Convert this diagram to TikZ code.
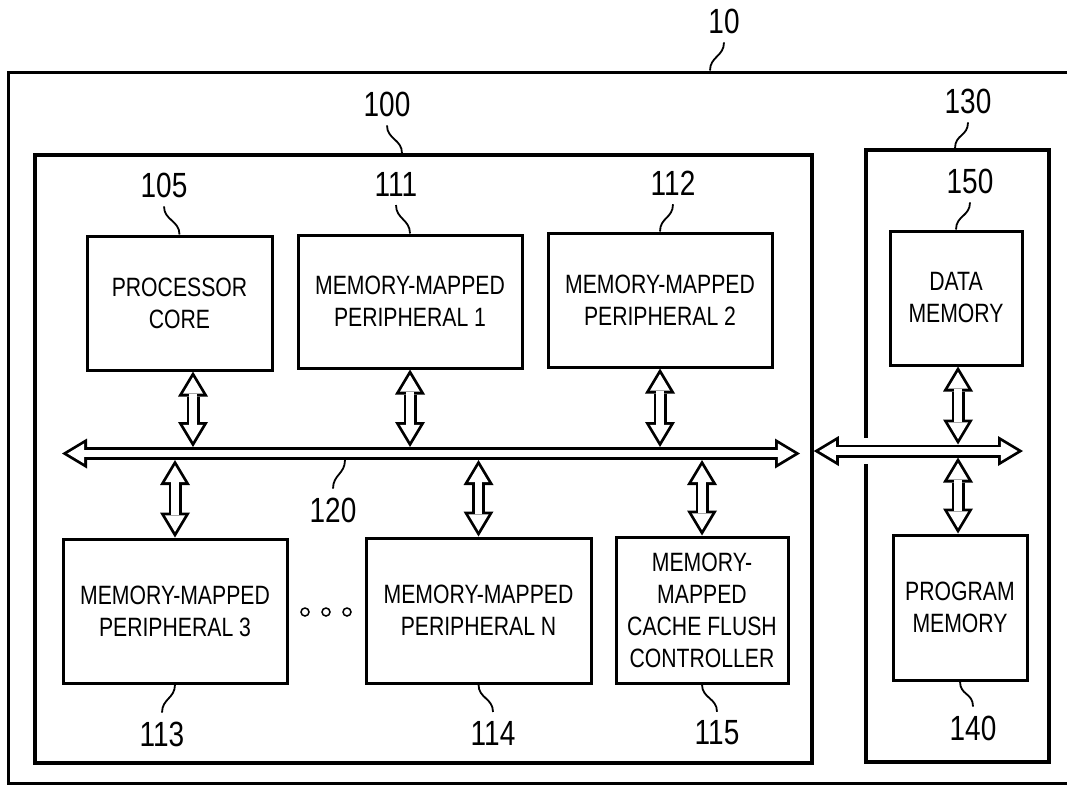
\documentclass[tikz,border=0pt]{standalone}
\usepackage{fontspec}
\setmainfont{Liberation Sans}[FakeStretch=0.8]
\usetikzlibrary{arrows.meta,positioning,calc}
\tikzset{
  unit box/.style={draw,line width=3pt,fill=white,align=center,inner sep=0pt,
    font=\fontsize{26.5}{32}\selectfont},
  frame box/.style={draw,line width=3.5pt,inner sep=0pt},
  ref label/.style={inner sep=0pt,outer sep=9pt,font=\fontsize{35}{40}\selectfont},
  ref leader/.style={line width=1.8pt},
  widetip/.tip={Triangle[length=25pt,width=30pt,line width=0pt]},
  innertip/.tip={Triangle[length=16.75pt,width=20.1pt,line width=0pt]},
  fat arrow/.style={line width=13pt,arrows={widetip-widetip},
    postaction={draw=white,line width=7.4pt,arrows={innertip-innertip},
      shorten <=5.45pt,shorten >=5.45pt}},
  bus gap/.style={preaction={draw=white,line width=26pt,arrows=-}}
}
\begin{document}
\begin{tikzpicture}[x=1pt,y=-1pt]
\useasboundingbox (0,0) rectangle (1067,793);
% system, chip and memory blocks
\node[frame box,line width=3pt,minimum width=1082pt,minimum height=711pt] (sys) at (549,427.5) {};
\node[frame box,minimum width=777pt,minimum height=608pt] (chip) at (423.5,459) {};
\node[frame box,minimum width=183pt,minimum height=612pt] (mem) at (957.5,456) {};
% units
\node[unit box,minimum width=185pt,minimum height=134pt] (core) at (179.5,303) {PROCESSOR\\CORE};
\node[unit box,minimum width=224pt,minimum height=133pt] (per1) at (410,301.5) {MEMORY-MAPPED\\PERIPHERAL 1};
\node[unit box,minimum width=224pt,minimum height=134pt] (per2) at (660,300) {MEMORY-MAPPED\\PERIPHERAL 2};
\node[unit box,minimum width=132pt,minimum height=134pt] (dmem) at (956,298) {DATA\\MEMORY};
\node[unit box,minimum width=224pt,minimum height=144pt] (per3) at (175,611) {MEMORY-MAPPED\\PERIPHERAL 3};
\node[unit box,minimum width=225pt,minimum height=145pt] (perN) at (478.5,610.5) {MEMORY-MAPPED\\PERIPHERAL N};
\node[unit box,minimum width=172pt,minimum height=146pt] (flush) at (702,610) {MEMORY-\\MAPPED\\CACHE FLUSH\\CONTROLLER};
\node[unit box,minimum width=134pt,minimum height=145pt] (pmem) at (960,607.5) {PROGRAM\\MEMORY};
\foreach \x in {305,326,347}
  \draw[line width=1.5pt] (\x,612) circle (4pt);
% bus 120 and the memory bus
\coordinate (busL) at (62,453.5);
\coordinate (busR) at (800,453.5);
\coordinate (bustop) at (0,447);
\coordinate (busbot) at (0,460);
\coordinate (rbus) at (1023,451);
\coordinate (rtop) at (0,444.5);
\coordinate (rbot) at (0,457.5);
\draw[fat arrow] (busL) -- (busR);
\draw[fat arrow,bus gap] (chip.east |- rbus) -- (rbus);
\draw[fat arrow] ($(core.south)+(13.5,0)$) -- ($(core.south |- bustop)+(13.5,0)$);
\draw[fat arrow] (per1.south) -- (per1.south |- bustop);
\draw[fat arrow] (per2.south) -- (per2.south |- bustop);
\draw[fat arrow] (per3.north |- busbot) -- (per3.north);
\draw[fat arrow] (perN.north |- busbot) -- (perN.north);
\draw[fat arrow] (flush.north |- busbot) -- (flush.north);
\draw[fat arrow] ($(dmem.south)+(2,0)$) -- ($(dmem.south |- rtop)+(2,0)$);
\draw[fat arrow] ($(pmem.north |- rbot)+(-2,0)$) -- ($(pmem.north)+(-2,0)$);
% reference numerals
\node[ref label] (l10) at (724,21) {10};
\node[ref label] (l100) at (387,104) {100};
\node[ref label] (l130) at (968,101) {130};
\node[ref label] (l105) at (164,185) {105};
\node[ref label] (l111) at (396,184) {111};
\node[ref label] (l112) at (673,183) {112};
\node[ref label] (l150) at (970,181) {150};
\node[ref label] (l120) at (333,510) {120};
\node[ref label] (l113) at (162,734) {113};
\node[ref label] (l114) at (493,733) {114};
\node[ref label] (l115) at (717,733) {115};
\node[ref label] (l140) at (973,728) {140};
\coordinate (c120) at (345,460);
\draw[ref leader] ($(l10.south |- sys.north)+(-14,0)$) .. controls +(0,-14) and +(0,14) .. (l10.south);
\draw[ref leader] ($(l100.south |- chip.north)+(15,0)$) .. controls +(0,-14) and +(0,14) .. (l100.south);
\draw[ref leader] ($(l130.south |- mem.north)+(-13,0)$) .. controls +(0,-14) and +(0,14) .. (l130.south);
\draw[ref leader] (core.north) .. controls +(0,-14) and +(0,14) .. (l105.south);
\draw[ref leader] (per1.north) .. controls +(0,-14) and +(0,14) .. (l111.south);
\draw[ref leader] (per2.north) .. controls +(0,-14) and +(0,14) .. (l112.south);
\draw[ref leader] (dmem.north) .. controls +(0,-14) and +(0,14) .. (l150.south);
\draw[ref leader] (c120) .. controls +(0,14) and +(0,-14) .. (l120.north);
\draw[ref leader] (per3.south) .. controls +(0,14) and +(0,-14) .. (l113.north);
\draw[ref leader] (perN.south) .. controls +(0,14) and +(0,-14) .. (l114.north);
\draw[ref leader] (flush.south) .. controls +(0,14) and +(0,-14) .. (l115.north);
\draw[ref leader] (pmem.south) .. controls +(0,14) and +(0,-14) .. (l140.north);
\end{tikzpicture}
\end{document}
